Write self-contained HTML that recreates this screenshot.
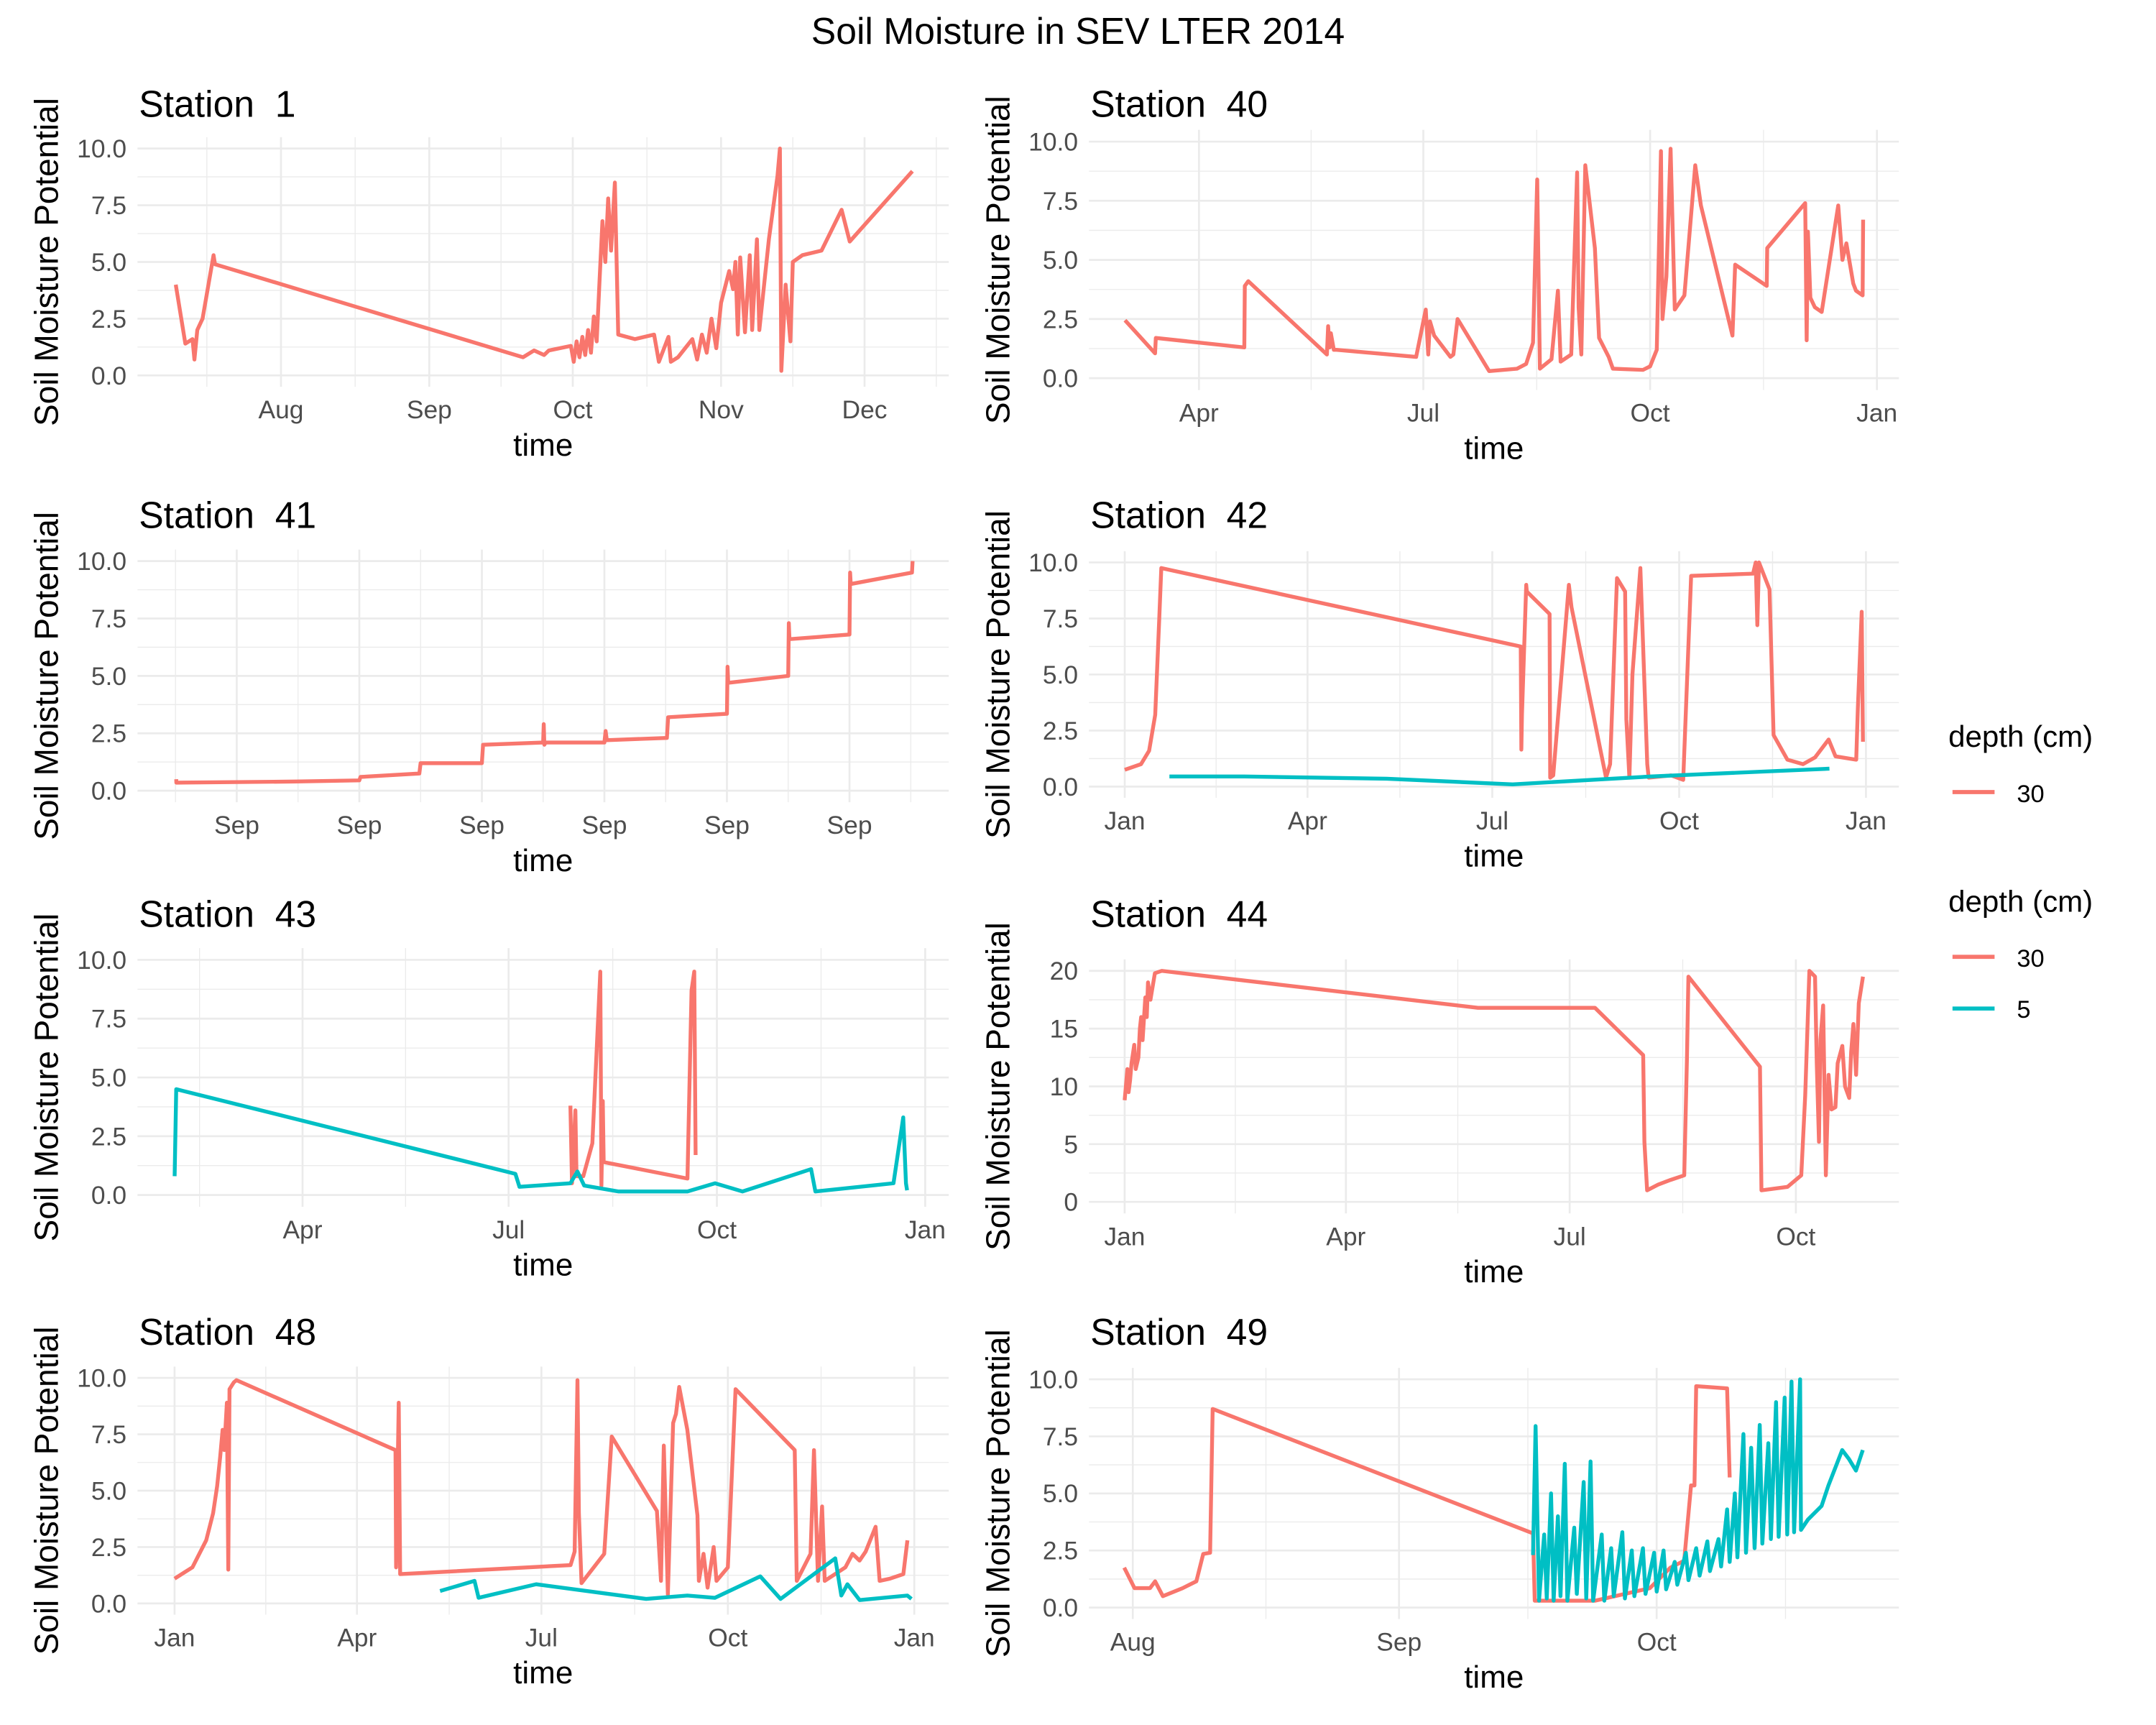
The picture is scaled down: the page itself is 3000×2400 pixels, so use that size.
<!DOCTYPE html>
<html><head><meta charset="utf-8"><style>
html,body{margin:0;padding:0;background:#fff;}
svg{display:block;font-family:"Liberation Sans",Arial,sans-serif;}
.pre{white-space:pre;}
</style></head><body>
<svg id="chart" width="3000" height="2400" viewBox="0 0 1568 1254.4" preserveAspectRatio="none" xmlns="http://www.w3.org/2000/svg">
<rect x="0" y="0" width="1568" height="1255" fill="#fff"/>
<text x="784" y="32" font-size="27" text-anchor="middle" fill="#000">Soil Moisture in SEV LTER 2014</text>
<g id="panels"></g>
<g>
<text x="1417" y="543" font-size="22">depth (cm)</text>
<line x1="1420" y1="576" x2="1450.6" y2="576" stroke="#F8766D" stroke-width="3"/>
<text x="1466.8" y="583.4" font-size="18">30</text>
</g>
<g>
<text x="1417" y="663" font-size="22">depth (cm)</text>
<line x1="1420" y1="695.8" x2="1450.6" y2="695.8" stroke="#F8766D" stroke-width="3"/>
<text x="1466.8" y="703" font-size="18">30</text>
<line x1="1420" y1="733.4" x2="1450.6" y2="733.4" stroke="#00BFC4" stroke-width="3"/>
<text x="1466.8" y="740" font-size="18">5</text>
</g>
</svg>
<script>
// ---- data (day of year, value) ----
const s1Red = [[191,4.0],[193,1.4],[194.5,1.6],[194.9,0.7],[195.5,2.0],[196.6,2.5],[198.9,5.3],[199.2,4.9],[263.6,0.8],[265.9,1.1],[268,0.9],[269,1.1],[273.6,1.3],[274.2,0.6],[274.8,1.5],[275.4,0.8],[276,1.7],[276.6,0.9],[277.2,2.0],[277.8,1.0],[278.4,2.6],[279,1.5],[279.6,4.2],[280.2,6.8],[280.8,5.0],[281.4,7.8],[282,5.5],[282.8,8.5],[283.5,1.8],[287,1.6],[291,1.8],[292,0.6],[294,1.7],[294.5,0.6],[296,0.8],[299,1.6],[300,0.7],[301,1.8],[302,1.0],[303,2.5],[304,1.2],[305,3.2],[306.7,4.6],[307.5,3.8],[308,5.0],[308.5,1.8],[309,5.2],[310,1.9],[311,5.3],[311.5,2.0],[312.5,6.0],[313,2.0],[315,6.0],[316.8,8.8],[317.3,10.0],[317.6,0.2],[318.5,4.0],[319.5,1.5],[320,5.0],[322,5.3],[326,5.5],[330.2,7.3],[331.9,5.9],[345,9.0]];
const s40Red = [[61,2.45],[73.2,1.05],[73.5,1.7],[109.4,1.3],[109.6,3.9],[111,4.1],[142.9,1.0],[143.4,2.2],[144,1.3],[144.5,1.9],[145.7,1.2],[146.8,1.2],[179.1,0.9],[183,2.9],[184,1.0],[184.7,2.4],[186.4,1.8],[193,0.9],[194.2,1.0],[195.9,2.5],[208.7,0.3],[220,0.4],[223.7,0.6],[226.5,1.5],[228.2,8.4],[229.3,0.4],[234,0.8],[236.6,3.7],[237.7,0.7],[242,1.0],[244.4,8.7],[245,3.0],[246.1,1.0],[247.7,9.0],[251.6,5.5],[253.3,1.7],[257.2,0.9],[258.9,0.4],[271.1,0.35],[274,0.5],[276.7,1.2],[278.4,9.6],[279,2.5],[280.6,4.3],[282.3,9.7],[284,2.9],[287.9,3.5],[292.3,9.0],[294.6,7.3],[307.4,1.8],[308.5,4.8],[321.3,3.9],[321.5,5.5],[336.9,7.4],[337.5,1.6],[338,6.2],[339,3.4],[340.8,3.0],[343.6,2.8],[350.3,7.3],[352,5.0],[353.6,5.7],[356.4,4.0],[357.5,3.7],[360.2,3.5],[360.4,6.7]];
const s41Red = [[0.506,0.5],[0.507,0.35],[1.48,0.4],[2.0,0.45],[2.01,0.6],[2.49,0.75],[2.5,1.2],[3.0,1.2],[3.01,2.0],[3.5,2.1],[3.505,2.9],[3.51,2.0],[3.52,2.1],[4.0,2.1],[4.01,2.6],[4.02,2.2],[4.51,2.3],[4.52,3.2],[5.0,3.35],[5.005,5.4],[5.01,4.7],[5.5,5.0],[5.505,7.3],[5.51,6.6],[6.0,6.8],[6.005,9.5],[6.01,9.0],[6.51,9.5],[6.515,10.0]];
const s42Red = [[1,0.75],[9,1.0],[13,1.6],[16,3.2],[18,7.5],[19,9.75],[196,6.25],[196.3,1.65],[196.6,3.2],[198.7,9.0],[199,8.7],[210.2,7.7],[210.5,0.4],[212,0.5],[219.7,9.0],[221,8.0],[238,0.4],[240,1.0],[243.4,9.3],[247.4,8.7],[248,3],[249.5,0.4],[251,5],[254.9,9.75],[258.3,1.0],[259,0.4],[270,0.5],[276,0.3],[279.9,9.4],[310.4,9.5],[311.7,10.0],[312.5,7.2],[313.3,10.0],[318.5,8.8],[320.5,2.3],[327.3,1.2],[335,1.0],[340.9,1.3],[347.6,2.1],[351,1.35],[361.2,1.2],[362,3.5],[363.9,7.8],[364.5,2.0]];
const s42Teal = [[23,0.45],[60,0.45],[130,0.35],[192,0.1],[260,0.45],[348,0.8]];
const s43Red = [[209.3,3.8],[210,0.5],[211.5,3.6],[212,0.8],[215,0.8],[219,2.2],[222.5,9.5],[223,0.4],[223.6,4],[224,1.4],[261,0.7],[262.8,8.7],[264,9.5],[264.6,1.7]];
const s43Teal = [[34.5,0.8],[35.2,4.5],[185,0.9],[186.8,0.35],[209.3,0.5],[212.4,1.0],[215.4,0.4],[230.6,0.15],[261,0.15],[273.2,0.5],[285.3,0.15],[315.6,1.1],[317.5,0.15],[352,0.5],[356.3,3.3],[357.5,0.5],[358,0.2]];
const s44Red = [[1,8.8],[1.5,10],[2.1,11.5],[2.6,9.5],[3.2,10.5],[3.8,12],[4.9,13.6],[5.5,11.5],[6.6,12.5],[7.2,15],[7.7,16],[8.3,14],[9.4,17.7],[10,16],[10.5,19],[11.5,17.5],[13.3,19.8],[16.1,20],[144.7,16.8],[192.3,16.8],[211.9,12.7],[212.4,5.2],[213.5,1.0],[218,1.5],[223,1.9],[228.6,2.3],[229.7,12.4],[230.3,19.5],[259.4,11.7],[260,1.0],[270.6,1.3],[276.2,2.3],[277.8,9.2],[279.5,20],[281.8,19.5],[282.5,12],[283.4,5.2],[284,14],[285.1,17],[286.2,2.3],[287.3,11],[288.5,8],[290.1,8.2],[291,12],[292.9,13.5],[294,10],[295.7,9],[296.5,13],[297.4,15.4],[298.5,11],[299.6,17.2],[301.3,19.5]];
const s48Red = [[1,1.1],[9.8,1.6],[16.6,2.8],[20,4],[22,5.2],[23.5,6.5],[24.7,7.7],[25.5,6.8],[26.8,8.9],[27.5,1.5],[28.1,9.5],[30.2,9.8],[31.5,9.9],[110,6.8],[110.3,1.6],[111.6,8.9],[112.3,1.3],[196.4,1.7],[198.4,2.3],[199.8,9.9],[200.5,4],[201.8,0.9],[213,2.2],[216.7,7.4],[239,4.1],[241,1.0],[242.4,7],[244.4,0.4],[247,8.0],[248.4,8.4],[250,9.6],[254,7.7],[259,3.9],[259.7,1.0],[262,2.2],[264,0.7],[267,2.5],[268.4,1.0],[274,1.6],[277.8,9.5],[307,6.8],[308,1.0],[314.8,2.2],[316.5,6.8],[318.5,1.0],[320.5,4.3],[321.8,1.0],[332,1.6],[335.5,2.2],[339,1.9],[342,2.3],[346.9,3.4],[348.9,1.0],[354,1.1],[360.6,1.3],[362.6,2.8]];
const s48Teal = [[132,0.55],[149,1.0],[151,0.25],[179.4,0.85],[233.7,0.2],[254,0.35],[267.6,0.25],[290,1.2],[300,0.2],[327,2.0],[330,0.35],[333,0.85],[339,0.15],[362.6,0.35],[364.6,0.2]];
const s49Red = [[212,1.75],[213.2,0.85],[215,0.85],[215.6,1.15],[216.5,0.5],[218.8,0.85],[220.4,1.15],[221.2,2.35],[222,2.4],[222.3,8.7],[259.6,3.25],[259.8,0.3],[266.8,0.3],[273.2,0.85],[275.6,1.75],[277.2,2.05],[278,5.35],[278.4,5.35],[278.6,9.7],[282.2,9.6],[282.5,5.7]];
const s49Teal = [[259.6,2.3],[259.9,7.95],[260.3,0.3],[260.9,3.2],[261.2,0.4],[261.7,5.0],[262,0.3],[262.5,4.0],[262.8,0.5],[263.3,6.3],[263.6,0.3],[264.4,3.5],[264.7,0.6],[265.5,5.5],[265.8,0.4],[266.3,6.4],[266.6,0.3],[267.6,3.2],[267.9,0.3],[268.7,2.6],[269,0.5],[270,3.3],[270.3,0.4],[271.1,2.5],[271.4,0.5],[272.4,2.6],[272.7,0.6],[273.7,2.4],[274,0.7],[274.8,2.5],[275.1,0.8],[276.1,2.0],[276.4,1.0],[277.4,2.4],[277.7,1.2],[278.6,2.6],[279,1.4],[279.9,2.9],[280.2,1.6],[281.2,3.0],[281.5,1.8],[282.2,4.3],[282.5,2.0],[283.1,5.0],[283.4,2.2],[284.1,7.6],[284.4,2.4],[285,7.0],[285.4,2.6],[286,8.0],[286.3,2.8],[287,7.2],[287.3,3.0],[287.9,9.0],[288.2,3.1],[288.9,9.2],[289.2,3.2],[289.7,9.9],[290,3.3],[290.7,10.0],[290.8,3.4],[291.6,3.85],[293.2,4.45],[294,5.35],[295.6,6.9],[296.4,6.5],[297.2,6.0],[298,6.9]];

// tick values and labels
const ticks1 = [213,244,274,305,335];      const labels1 = ["Aug","Sep","Oct","Nov","Dec"];
const ticks40 = [91,182,274,366];          const labels40 = ["Apr","Jul","Oct","Jan"];
const ticks41 = [1,2,3,4,5,6];             const labels41 = ["Sep","Sep","Sep","Sep","Sep","Sep"];
const ticks42 = [1,91,182,274,366];        const labels42 = ["Jan","Apr","Jul","Oct","Jan"];
const ticks43 = [91,182,274,366];          const labels43 = ["Apr","Jul","Oct","Jan"];
const ticks44 = [1,91,182,274];            const labels44 = ["Jan","Apr","Jul","Oct"];
const ticks48 = [1,91,182,274,366];        const labels48 = ["Jan","Apr","Jul","Oct","Jan"];
const ticks49 = [213,244,274];             const labels49 = ["Aug","Sep","Oct"];
const yTicks10 = [0,2.5,5,7.5,10];         const yLabels10 = ["0.0","2.5","5.0","7.5","10.0"];
const yTicks20 = [0,5,10,15,20];           const yLabels20 = ["0","5","10","15","20"];

const RED="#F8766D", TEAL="#00BFC4";
const panels = [
 {id:"1", ty:85, x0:100,x1:690, top:99.75,bot:281.25, xd:[183,352.6], yd:[-0.5,10.5], xt:ticks1,xl:labels1, yt:yTicks10,yl:yLabels10, series:[[s1Red,RED]]},
 {id:"40",ty:85, x0:792,x1:1381,top:94.4,bot:283.6, xd:[46.4,374.9], yd:[-0.5,10.5], xt:ticks40,xl:labels40, yt:yTicks10,yl:yLabels10, series:[[s40Red,RED]]},
 {id:"41",ty:384, x0:100,x1:690, top:399.65,bot:583.35, xd:[0.19,6.81], yd:[-0.5,10.5], xt:ticks41,xl:labels41, yt:yTicks10,yl:yLabels10, series:[[s41Red,RED]]},
 {id:"42",ty:384, x0:792,x1:1381,top:400.85,bot:580.15, xd:[-16.6,382.2], yd:[-0.5,10.5], xt:ticks42,xl:labels42, yt:yTicks10,yl:yLabels10, series:[[s42Red,RED],[s42Teal,TEAL]]},
 {id:"43",ty:674, x0:100,x1:690, top:689.45,bot:877.55, xd:[18.1,376.4], yd:[-0.5,10.5], xt:ticks43,xl:labels43, yt:yTicks10,yl:yLabels10, series:[[s43Red,RED],[s43Teal,TEAL]]},
 {id:"44",ty:674, x0:792,x1:1381,top:697.6,bot:882.4, xd:[-13.5,315.9], yd:[-1,21], xt:ticks44,xl:labels44, yt:yTicks20,yl:yLabels20, series:[[s44Red,RED]]},
 {id:"48",ty:978, x0:100,x1:690, top:993.8,bot:1174.2, xd:[-17.3,383], yd:[-0.5,10.5], xt:ticks48,xl:labels48, yt:yTicks10,yl:yLabels10, series:[[s48Red,RED],[s48Teal,TEAL]]},
 {id:"49",ty:978, x0:792,x1:1381,top:994.7,bot:1177.3, xd:[207.9,302.2], yd:[-0.5,10.5], xt:ticks49,xl:labels49, yt:yTicks10,yl:yLabels10, series:[[s49Red,RED],[s49Teal,TEAL]]}
];
const NS="http://www.w3.org/2000/svg";
const root=document.getElementById("panels");
function mk(tag,attrs,parent){const e=document.createElementNS(NS,tag);for(const k in attrs)e.setAttribute(k,attrs[k]);parent.appendChild(e);return e;}
panels.forEach(p=>{
  const g=mk("g",{},root);
  
  
  const sx=v=>p.x0+(v-p.xd[0])/(p.xd[1]-p.xd[0])*(p.x1-p.x0);
  const sy=v=>p.bot-(v-p.yd[0])/(p.yd[1]-p.yd[0])*(p.bot-p.top);
  const yt=p.yt;
  const ystep=yt[1]-yt[0];
  for(let i=0;i<yt.length-1;i++){
    const l=mk("line",{x1:p.x0,x2:p.x1,y1:sy(yt[i]+ystep/2),y2:sy(yt[i]+ystep/2),stroke:"#ebebeb","stroke-width":0.7},g);
    
    
  }
  const xt=p.xt;
  const mids=[];
  for(let i=0;i<xt.length-1;i++)mids.push((xt[i]+xt[i+1])/2);
  const st0=xt[1]-xt[0], stN=xt[xt.length-1]-xt[xt.length-2];
  mids.push(xt[0]-st0/2); mids.push(xt[xt.length-1]+stN/2);
  mids.forEach(m=>{
    if(m<p.xd[0]||m>p.xd[1])return;
    const l=mk("line",{x1:sx(m),x2:sx(m),y1:p.top,y2:p.bot,stroke:"#ebebeb","stroke-width":0.7},g);
    
    
  });
  yt.forEach((v,i)=>{
    const l=mk("line",{x1:p.x0,x2:p.x1,y1:sy(v),y2:sy(v),stroke:"#ebebeb","stroke-width":1.4},g);
    
    
    const t=mk("text",{x:p.x0-8,y:sy(v)+6.5,"font-size":18.5,"text-anchor":"end",fill:"#4d4d4d"},g);
    t.textContent=p.yl[i];
    
    
  });
  xt.forEach((v,i)=>{
    if(v<p.xd[0]||v>p.xd[1])return;
    const l=mk("line",{x1:sx(v),x2:sx(v),y1:p.top,y2:p.bot,stroke:"#ebebeb","stroke-width":1.4},g);
    
    
    const t=mk("text",{x:sx(v),y:p.bot+23,"font-size":18.5,"text-anchor":"middle",fill:"#4d4d4d"},g);
    t.textContent=p.xl[i];
    
    
  });
  p.series.forEach(([data,col])=>{
    const d=data.map((pt,i)=>(i?"L":"M")+sx(pt[0]).toFixed(2)+","+sy(pt[1]).toFixed(2)).join("");
    const path=mk("path",{d:d,fill:"none",stroke:col,"stroke-width":2.8,"stroke-linejoin":"round"},g);
    
    
  });
  const tt=mk("text",{x:p.x0+1,y:p.ty,"font-size":27,fill:"#000","class":"pre"},g);
  tt.textContent="Station\u00A0\u00A0"+p.id;
  
  
  const xa=mk("text",{x:(p.x0+p.x1)/2,y:p.bot+50,"font-size":23,"text-anchor":"middle",fill:"#000"},g);
  xa.textContent="time";
  
  
  const cy=(p.top+p.bot)/2, ax=p.x0-58;
  const ya=mk("text",{x:ax,y:cy,"font-size":24,"text-anchor":"middle",fill:"#000",transform:"rotate(-90 "+ax+" "+cy+")"},g);
  ya.textContent="Soil Moisture Potential";
  
  
});
</script>
</body></html>
